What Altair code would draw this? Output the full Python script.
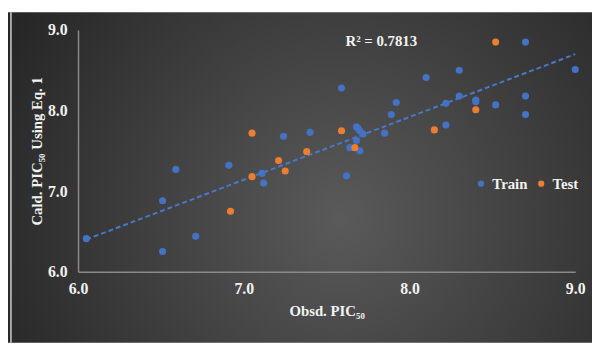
import altair as alt
import pandas as pd

# Train set (observed, calculated)
train_obs = [6.05, 6.51, 6.51, 6.59, 6.71, 6.91, 7.11, 7.12, 7.24, 7.40, 7.59, 7.62,
             7.64, 7.68, 7.68, 7.69, 7.70, 7.72, 7.70, 7.85, 7.89, 7.92, 8.10, 8.22,
             8.22, 8.30, 8.30, 8.40, 8.40, 8.52, 8.70, 8.70, 8.70, 9.00]
train_calc = [6.41, 6.88, 6.25, 7.27, 6.44, 7.32, 7.22, 7.10, 7.68, 7.73, 8.28, 7.19,
              7.54, 7.63, 7.80, 7.78, 7.75, 7.71, 7.50, 7.72, 7.95, 8.10, 8.41, 8.09,
              7.82, 8.50, 8.18, 8.11, 8.13, 8.07, 8.85, 8.18, 7.95, 8.51]
# Test set
test_obs = [6.92, 7.05, 7.05, 7.21, 7.25, 7.38, 7.59, 7.67, 8.15, 8.40, 8.52]
test_calc = [6.75, 7.18, 7.72, 7.38, 7.25, 7.49, 7.75, 7.54, 7.76, 8.01, 8.85]

# Trend line end points
trend_x = [6.05, 9.00]
trend_y = [6.40, 8.70]

r2_label = ["R² = 0.7813"]
r2_pos = [7.83, 8.86]

series_names = ["Train", "Test"]
series_colors = ["#4472C4", "#ED7D31"]
ticks = [6.0, 7.0, 8.0, 9.0]

df = pd.DataFrame({
    "obs": train_obs + test_obs,
    "calc": train_calc + test_calc,
    "set": ["Train"] * len(train_obs) + ["Test"] * len(test_obs),
})
trend_df = pd.DataFrame({"obs": trend_x, "calc": trend_y})
r2_df = pd.DataFrame({"obs": [r2_pos[0]], "calc": [r2_pos[1]], "label": r2_label})

W, H = 504, 245
PL, PT, PR, PB = 71, 20, 17, 72
FONT = "Liberation Serif"
TXT = "#f2f2f2"

xscale = alt.Scale(domain=[6, 9], nice=False, zero=False)
yscale = alt.Scale(domain=[6, 9], nice=False, zero=False)

axis_style = dict(
    zindex=1, grid=False, ticks=False, labelFlush=False,
    domainColor="#8a8a8a", domainWidth=1.5,
    labelColor=TXT, labelFont=FONT, labelFontSize=16, labelFontWeight="bold",
    titleColor=TXT, titleFont=FONT, titleFontSize=15, titleFontWeight="bold",
)

bg = alt.Chart(alt.Data(values=[{}])).mark_rect(
    color={
        "gradient": "radial",
        "x1": 0.57, "y1": 0.57, "x2": 0.57, "y2": 0.57,
        "r1": 0, "r2": 0.7,
        "stops": [
            {"offset": 0, "color": "#5a5a5a"},
            {"offset": 1, "color": "#222222"},
        ],
    }
).encode(
    x=alt.value(-PL), x2=alt.value(W + PR),
    y=alt.value(-18), y2=alt.value(H + PB),
)

edge = alt.Chart(alt.Data(values=[{}])).mark_rule(
    color="#cfcfcf", strokeWidth=1.5
).encode(
    x=alt.value(-68), y=alt.value(-18), y2=alt.value(H + PB)
)

trend = alt.Chart(trend_df).mark_line(
    color="#4a78c8", strokeWidth=2, strokeDash=[5, 3]
).encode(
    x=alt.X("obs:Q", scale=xscale),
    y=alt.Y("calc:Q", scale=yscale),
)

points = alt.Chart(df).mark_circle(size=52, opacity=1).encode(
    x=alt.X("obs:Q", scale=xscale,
            axis=alt.Axis(values=ticks, format=".1f", title="Obsd. PIC₅₀",
                          labelPadding=9, titlePadding=7, **axis_style)),
    y=alt.Y("calc:Q", scale=yscale,
            axis=alt.Axis(values=ticks, format=".1f", title="Cald. PIC₅₀ Using Eq. 1",
                          labelPadding=11, titlePadding=3, **axis_style)),
    color=alt.Color("set:N",
                    scale=alt.Scale(domain=series_names, range=series_colors),
                    legend=alt.Legend(title=None, orient="none", direction="horizontal",
                                      legendX=401, legendY=148, symbolType="circle",
                                      symbolSize=40, columnPadding=6, labelOffset=4,
                                      labelFont=FONT, labelFontSize=15,
                                      labelFontWeight="bold", labelColor=TXT,
                                      symbolStrokeWidth=0)),
    order=alt.Order("order:Q"),
).transform_calculate(order="datum.set == 'Train' ? 0 : 1")

r2 = alt.Chart(r2_df).mark_text(
    font=FONT, fontSize=15, fontWeight="bold", color=TXT
).encode(
    x=alt.X("obs:Q", scale=xscale),
    y=alt.Y("calc:Q", scale=yscale),
    text="label:N",
)

chart = alt.layer(bg, edge, trend, points, r2).properties(
    width=W, height=H,
    autosize=alt.AutoSizeParams(type="none"),
    padding={"left": PL, "top": PT, "right": PR, "bottom": PB},
    background="white",
).configure_view(
    stroke=None
)

chart.save("out.html", embed_options={"renderer": "svg", "actions": False})
